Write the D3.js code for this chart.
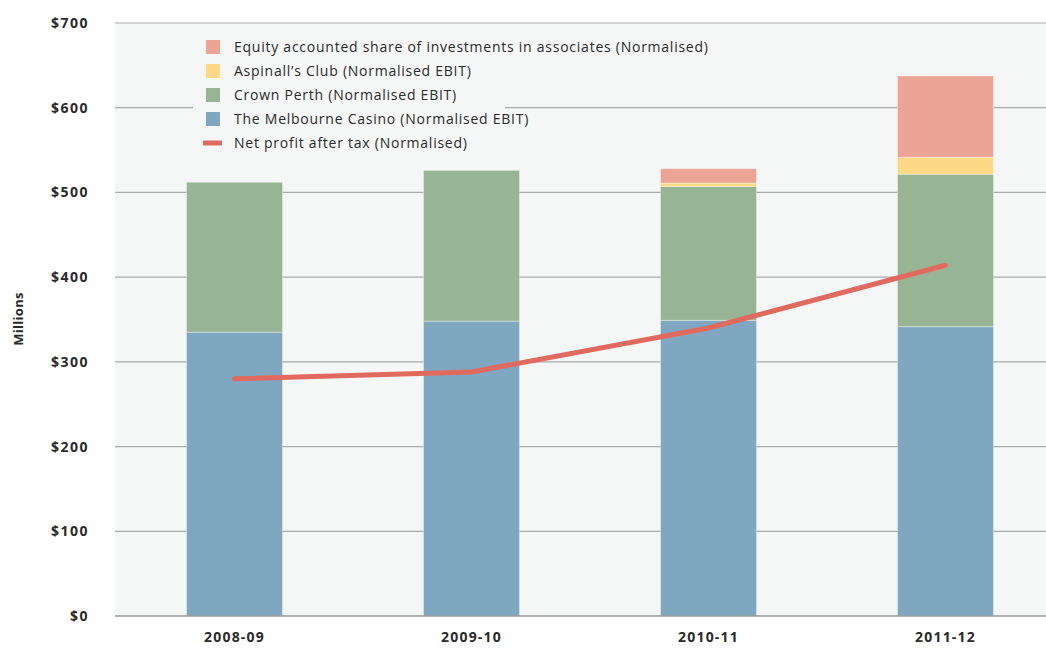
<!DOCTYPE html>
<html>
<head>
<meta charset="utf-8">
<script src="https://cdn.jsdelivr.net/npm/d3@7"></script>
<style>
body { margin: 0; background: #fff; }
text { font-family: "Open Sans", "DejaVu Sans", sans-serif; fill: #2a2a2a; }
</style>
</head>
<body>
<svg width="1046" height="648"></svg>
<script>
// chart values ($ millions)
var years = ["2008-09", "2009-10", "2010-11", "2011-12"]
var melbourne = [335, 348, 349, 341.5]
var perth = [177, 178, 158, 180]
var aspinalls = [0, 0, 4, 20]
var equity = [0, 0, 17, 96]
var npat = [280, 288, 340, 414]
var yTicks = [0, 100, 200, 300, 400, 500, 600, 700]

var seriesNames = [
	"The Melbourne Casino (Normalised EBIT)",
	"Crown Perth (Normalised EBIT)",
	"Aspinall\u2019s Club (Normalised EBIT)",
	"Equity accounted share of investments in associates (Normalised)"
]
var lineName = "Net profit after tax (Normalised)"
var colors = ["#7fa7c1", "#97b595", "#fdd985", "#eca595"]
var lineColor = "#e06a5e"

var svg = d3.select("svg"),
	plotL = 115, plotR = 1046, plotT = 23, plotB = 616

var rows = years.map(function(y, i) {
	return { year: y, s0: melbourne[i], s1: perth[i], s2: aspinalls[i], s3: equity[i] }
})
var stack = d3.stack().keys(["s0", "s1", "s2", "s3"])(rows)

var x = d3.scaleBand().domain(years).range([116, 1064]).paddingInner(0.595).paddingOuter(0.2975)
var y = d3.scaleLinear().domain([0, 700]).range([plotB, plotT])

// plot background
svg.append("rect")
	.attr("x", plotL).attr("y", plotT)
	.attr("width", plotR - plotL).attr("height", plotB - plotT)
	.style("fill", "#f5f7f7")

// gridlines
svg.append("g").selectAll("line").data(yTicks.slice(1)).enter().append("line")
	.attr("x1", plotL).attr("x2", plotR)
	.attr("y1", y).attr("y2", y)
	.style("stroke", "#aaaaad").style("stroke-width", 1.2)

// y labels
svg.append("g").selectAll("text").data(yTicks).enter().append("text")
	.attr("x", 89).attr("y", function(d) { return y(d) + 5 })
	.attr("text-anchor", "end")
	.style("font-size", "14px").style("font-weight", "bold").style("letter-spacing", "1.5px")
	.text(function(d) { return "$" + d })

svg.append("text")
	.attr("transform", "translate(23,319) rotate(-90)")
	.attr("text-anchor", "middle")
	.style("font-size", "13px").style("font-weight", "bold").style("letter-spacing", "0.3px")
	.text("Millions")

// legend background hides grid line behind it
svg.append("rect")
	.attr("x", 193).attr("y", 32).attr("width", 312).attr("height", 122)
	.style("fill", "#f5f7f7")

// bars
svg.append("g").selectAll("g").data(stack).enter().append("g")
	.style("fill", function(d, i) { return colors[i] })
	.selectAll("rect").data(function(d) { return d }).enter().append("rect")
	.attr("x", function(d) { return x(d.data.year) })
	.attr("width", x.bandwidth())
	.attr("y", function(d) { return y(d[1]) })
	.attr("height", function(d) { return y(d[0]) - y(d[1]) })
	.style("stroke", "rgba(255,255,255,0.35)").style("stroke-width", 1)

// baseline
svg.append("line")
	.attr("x1", plotL).attr("x2", plotR)
	.attr("y1", plotB).attr("y2", plotB)
	.style("stroke", "#999").style("stroke-width", 1.5)

// x labels
svg.append("g").selectAll("text").data(years).enter().append("text")
	.attr("x", function(d) { return x(d) + x.bandwidth() / 2 })
	.attr("y", 642)
	.attr("text-anchor", "middle")
	.style("font-size", "14px").style("font-weight", "bold").style("letter-spacing", "1.2px")
	.text(function(d) { return d })

// net profit line
var line = d3.line()
	.x(function(d, i) { return x(years[i]) + x.bandwidth() / 2 })
	.y(function(d) { return y(d) })
svg.append("path").datum(npat)
	.attr("d", line)
	.style("fill", "none").style("stroke", lineColor)
	.style("stroke-width", 5).style("stroke-linecap", "round")

// legend
var legendItems = seriesNames.map(function(n, i) { return { name: n, color: colors[i] } }).reverse()
var lg = svg.append("g")
legendItems.forEach(function(d, i) {
	var cy = 47 + i * 24
	lg.append("rect").attr("x", 206).attr("y", cy - 7).attr("width", 14).attr("height", 14).style("fill", d.color)
	lg.append("text").attr("x", 234).attr("y", cy + 5)
		.style("font-size", "14px").style("letter-spacing", "0.75px").text(d.name)
})
lg.append("line").attr("x1", 203).attr("x2", 222).attr("y1", 143).attr("y2", 143)
	.style("stroke", lineColor).style("stroke-width", 5)
lg.append("text").attr("x", 234).attr("y", 148)
	.style("font-size", "14px").style("letter-spacing", "0.75px").text(lineName)
</script>
</body>
</html>
